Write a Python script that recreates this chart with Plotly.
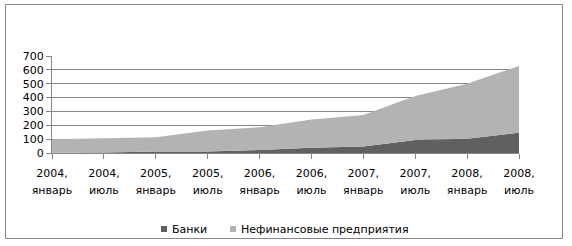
import plotly.graph_objects as go

years = ["2004,", "2004,", "2005,", "2005,", "2006,", "2006,", "2007,", "2007,", "2008,", "2008,"]
months = ["январь", "июль", "январь", "июль", "январь", "июль", "январь", "июль", "январь", "июль"]
banks = [1, 3, 10, 10, 22, 38, 47, 93, 103, 146]
nonfin = [99, 104, 104, 152, 163, 204, 228, 319, 397, 482]
yticks = [0, 100, 200, 300, 400, 500, 600, 700]
series_names = ["Банки", "Нефинансовые предприятия"]
series_colors = ["#606060", "#b3b3b3"]

W, H = 572, 246
L, R, T, B = 52, 519, 56, 153
xs = list(range(len(years)))

fig = go.Figure()
for name, vals, col in zip(series_names, [banks, nonfin], series_colors):
    fig.add_trace(go.Scatter(x=xs, y=vals, name=name, stackgroup="one",
                             mode="none", fillcolor=col, showlegend=False))
# invisible trace to activate month axis
fig.add_trace(go.Scatter(x=[xs[0]], y=[0], xaxis="x2", mode="markers",
                         marker=dict(opacity=0), showlegend=False, hoverinfo="skip"))

def px2x(p):
    return (p - L) / (R - L)

def py2y(p):
    return (B - p) / (B - T)

# legend drawn as squares + text
legend_x = [161, 230]
shapes = [dict(type="rect", xref="paper", yref="paper",
               x0=px2x(5.5), x1=px2x(562.5), y0=py2y(238.5), y1=py2y(4.5),
               line=dict(color="#868686", width=1), fillcolor="rgba(0,0,0,0)", layer="above")]
annotations = []
for lx, name, col in zip(legend_x, series_names, series_colors):
    shapes.append(dict(type="rect", xref="paper", yref="paper",
                       x0=px2x(lx), x1=px2x(lx + 6), y0=py2y(232), y1=py2y(226),
                       line=dict(width=0), fillcolor=col, layer="above"))
    annotations.append(dict(text=name, xref="paper", yref="paper", x=px2x(lx + 9), y=py2y(229),
                            xanchor="left", yanchor="middle", showarrow=False,
                            font=dict(size=11, color="#000000")))

xr = [0, len(years) - 1]
fig.update_layout(
    width=W, height=H,
    margin=dict(l=L, r=W - R, t=T, b=H - B, autoexpand=False),
    paper_bgcolor="white", plot_bgcolor="white",
    font=dict(family="DejaVu Sans", size=11, color="#000000"),
    showlegend=False,
    xaxis=dict(range=xr, tickvals=xs, ticktext=years, automargin=False,
               showgrid=False, zeroline=False, showline=True, linecolor="#868686", linewidth=1,
               ticks="outside", ticklen=5, tickcolor="#868686", tickangle=0,
               ticklabelstandoff=5),
    xaxis2=dict(range=xr, tickvals=xs, ticktext=months, overlaying="x", anchor="y",
                side="bottom", automargin=False, showgrid=False, zeroline=False,
                showline=False, ticks="", tickangle=0, ticklabelstandoff=29),
    yaxis=dict(range=[0, 700], tickvals=yticks, showgrid=True, gridcolor="#868686", gridwidth=1,
               zeroline=False, showline=True, linecolor="#868686", linewidth=1, automargin=False,
               ticks="outside", ticklen=5, tickcolor="#868686"),
    shapes=shapes,
    annotations=annotations,
)

fig.write_html("out.html")
